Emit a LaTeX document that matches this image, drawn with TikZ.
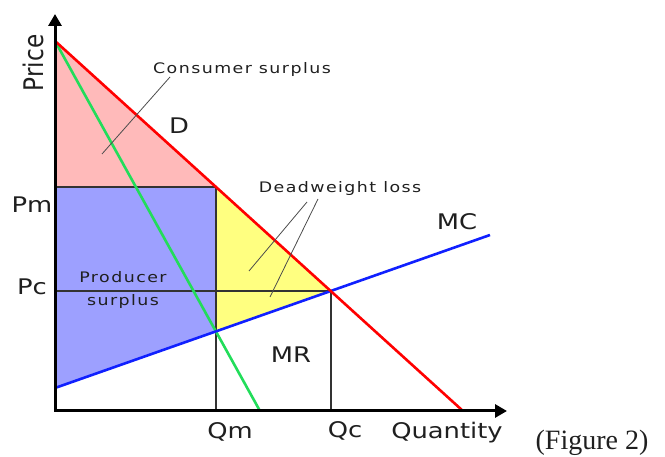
\documentclass[tikz,border=0pt]{standalone}
\usepackage{fontspec}
\setmainfont{DejaVu Sans}[FakeStretch=1.2]
\newfontfamily\areafont{DejaVu Sans}[FakeStretch=1.2,LetterSpace=10]
\newfontfamily\vertfont{DejaVu Sans}[FakeStretch=0.86]
\newfontfamily\capfont{Liberation Serif}
\usepackage{tikz}
\usetikzlibrary{arrows.meta}
\definecolor{DRed}{HTML}{FF0000}
\definecolor{MRGreen}{HTML}{22DD5A}
\definecolor{MCBlue}{HTML}{1020FF}
\definecolor{CSPink}{HTML}{FFBABA}
\definecolor{PSBlue}{HTML}{9DA0FF}
\definecolor{DWYellow}{HTML}{FFFF80}
\definecolor{GuideGray}{HTML}{333333}

\begin{document}
\begin{tikzpicture}[
  x=1pt,y=1pt,
  every node/.style={inner sep=0pt,text=black!88},
  axislbl/.style={font=\fontsize{21.5}{24}\selectfont},
  arealbl/.style={font=\areafont\fontsize{14.5}{23}\selectfont,align=center},
  axis/.style={line width=3pt,{Triangle[length=12pt,width=13pt]}-{Triangle[length=12pt,width=13pt]}},
  curve/.style={line width=2.6pt},
  guide/.style={line width=1.6pt,draw=GuideGray},
  lead/.style={line width=0.8pt,draw=black!70}
]
  \useasboundingbox (-55,-46) rectangle (610,411);

  % market points
  \coordinate (O) at (0,0);
  \coordinate (ytip) at (0,397);
  \coordinate (xtip) at (452,0);
  \coordinate (dtop) at (0,370);
  \coordinate (dend) at (408,0);
  \coordinate (mrend) at (205,0);
  \coordinate (mcstart) at (0,23);
  \coordinate (mcend) at (435,176);
  \coordinate (mono) at (161,224);
  \coordinate (mcut) at (161,80);
  \coordinate (comp) at (276,120);
  \coordinate (pm) at (0,224);
  \coordinate (pc) at (0,120);
  \coordinate (qm) at (161,0);
  \coordinate (qc) at (276,0);

  % surplus areas
  \fill[CSPink] (dtop) -- (mono) -- (pm) -- cycle;
  \fill[PSBlue] (pm) -- (mono) -- (mcut) -- (mcstart) -- cycle;
  \fill[DWYellow] (mono) -- (comp) -- (mcut) -- cycle;

  \draw[guide] (pm) -- (mono) -- (qm);
  \draw[guide] (pc) -- (comp) -- (qc);

  \draw[curve,draw=MRGreen] (dtop) -- (mrend);
  \draw[curve,draw=MCBlue] (mcstart) -- (mcend);
  \draw[curve,draw=DRed] (dtop) -- (dend);

  \draw[axis] (ytip) -- (O) -- (xtip);

  % labels
  \node[font=\vertfont\fontsize{27}{30}\selectfont,rotate=90] (price) at (-22,348) {Price};
  \node[axislbl] (pmlbl) at (-23,206) {Pm};
  \node[axislbl] (pclbl) at (-23,124) {Pc};
  \node[axislbl] (qmlbl) at (175,-21) {Qm};
  \node[axislbl] (qclbl) at (290,-20) {Qc};
  \node[axislbl] (qlbl) at (392,-22) {Quantity};
  \node[axislbl] (dlbl) at (124,285) {D};
  \node[axislbl] (mclbl) at (402,189) {MC};
  \node[axislbl] (mrlbl) at (236,56) {MR};
  \node[arealbl] (cslbl) at (187,341) {Consumer surplus};
  \node[arealbl] (dwlbl) at (285,222) {Deadweight loss};
  \node[arealbl] (pslbl) at (68,121) {Producer\\surplus};
  \node[font=\capfont\fontsize{28}{30}\selectfont] (figlbl) at (537,-32) {(Figure 2)};

  % leaders
  \coordinate (csfrom) at (115,334);
  \coordinate (csto) at (47,257);
  \coordinate (dwfromA) at (252,209);
  \coordinate (dwtoA) at (194,140);
  \coordinate (dwfromB) at (263,212);
  \coordinate (dwtoB) at (215,114);
  \draw[lead] (csfrom) -- (csto);
  \draw[lead] (dwfromA) -- (dwtoA);
  \draw[lead] (dwfromB) -- (dwtoB);
\end{tikzpicture}
\end{document}
